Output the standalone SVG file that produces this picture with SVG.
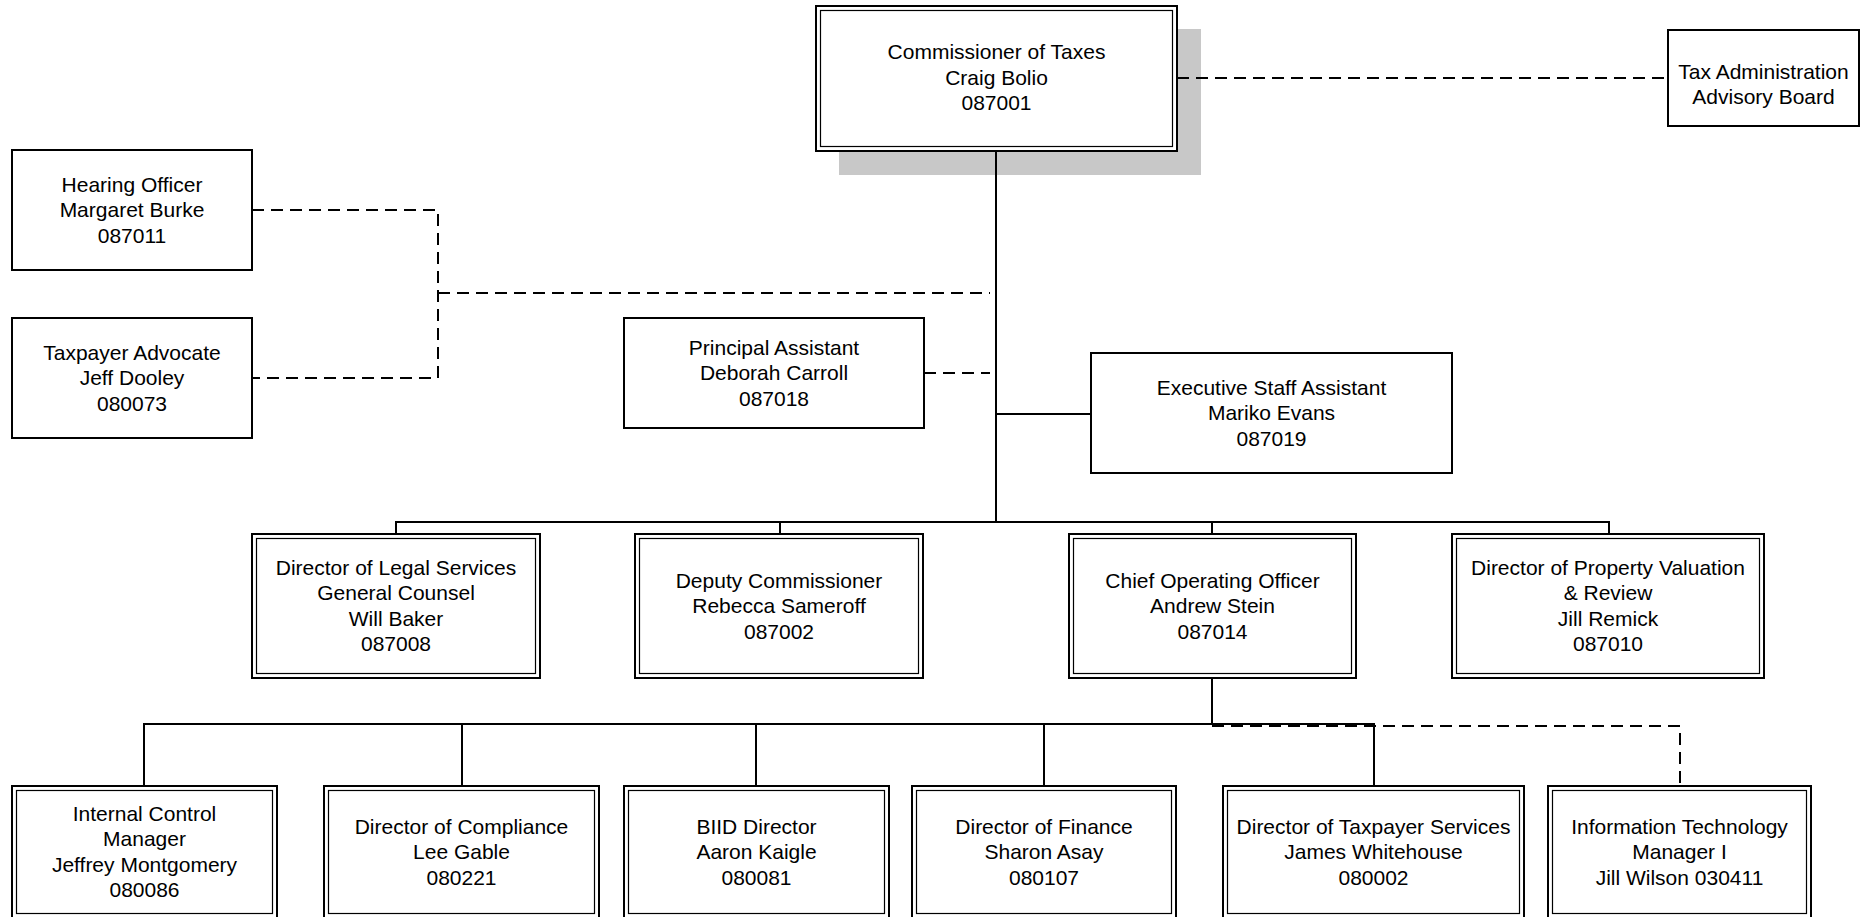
<svg xmlns="http://www.w3.org/2000/svg" width="1868" height="917" viewBox="0 0 1868 917">
  <style>
    .box { fill: #ffffff; stroke: #000000; stroke-width: 2; }
    .inner { fill: none; stroke: #000000; stroke-width: 1.2; }
    .shadow { fill: #c8c8c8; stroke: none; }
    .solid { fill: none; stroke: #000000; stroke-width: 2; }
    .dash { fill: none; stroke: #000000; stroke-width: 2; stroke-dasharray: 12 7; }
    text { font-family: "Liberation Sans", Arial, sans-serif; font-size: 21px; text-anchor: middle; fill: #000000; }
  </style>

  <rect id="commissioner-shadow" class="shadow" x="839" y="29" width="362" height="146"/>

  <g id="connectors">
    <!-- solid reporting lines -->
    <path class="solid" d="M996 151 V522"/>
    <path class="solid" d="M996 414 H1091"/>
    <path class="solid" d="M396 534 V522 H1609 V534"/>
    <path class="solid" d="M780 522 V534"/>
    <path class="solid" d="M1212 522 V534"/>
    <path class="solid" d="M1212 678 V724"/>
    <path class="solid" d="M144 786 V724 H1374 V786"/>
    <path class="solid" d="M462 724 V786"/>
    <path class="solid" d="M756 724 V786"/>
    <path class="solid" d="M1044 724 V786"/>
    <!-- dotted-line relationships -->
    <path class="dash" d="M1177 78 H1668"/>
    <path class="dash" d="M252 210 H438 V378 H252"/>
    <path class="dash" d="M438 293 H990"/>
    <path class="dash" d="M924 373 H990"/>
    <path class="dash" d="M1212 726 H1680 V786"/>
  </g>

  <g id="commissioner">
    <rect class="box" x="816" y="6" width="361" height="145"/>
    <rect class="inner" x="820.5" y="10.5" width="352" height="136"/>
    <text x="996.5" y="59">Commissioner of Taxes</text>
    <text x="996.5" y="84.5">Craig Bolio</text>
    <text x="996.5" y="110">087001</text>
  </g>

  <g id="advisory-board">
    <rect class="box" x="1668" y="30" width="191" height="96"/>
    <text x="1763.5" y="78.5">Tax Administration</text>
    <text x="1763.5" y="104">Advisory Board</text>
  </g>

  <g id="hearing-officer">
    <rect class="box" x="12" y="150" width="240" height="120"/>
    <text x="132" y="191.5">Hearing Officer</text>
    <text x="132" y="217">Margaret Burke</text>
    <text x="132" y="242.5">087011</text>
  </g>

  <g id="taxpayer-advocate">
    <rect class="box" x="12" y="318" width="240" height="120"/>
    <text x="132" y="359.5">Taxpayer Advocate</text>
    <text x="132" y="385">Jeff Dooley</text>
    <text x="132" y="410.5">080073</text>
  </g>

  <g id="principal-assistant">
    <rect class="box" x="624" y="318" width="300" height="110"/>
    <text x="774" y="354.5">Principal Assistant</text>
    <text x="774" y="380">Deborah Carroll</text>
    <text x="774" y="405.5">087018</text>
  </g>

  <g id="executive-staff-assistant">
    <rect class="box" x="1091" y="353" width="361" height="120"/>
    <text x="1271.5" y="394.5">Executive Staff Assistant</text>
    <text x="1271.5" y="420">Mariko Evans</text>
    <text x="1271.5" y="445.5">087019</text>
  </g>

  <g id="legal-services">
    <rect class="box" x="252" y="534" width="288" height="144"/>
    <rect class="inner" x="256.5" y="538.5" width="279" height="135"/>
    <text x="396" y="574.75">Director of Legal Services</text>
    <text x="396" y="600.25">General Counsel</text>
    <text x="396" y="625.75">Will Baker</text>
    <text x="396" y="651.25">087008</text>
  </g>

  <g id="deputy-commissioner">
    <rect class="box" x="635" y="534" width="288" height="144"/>
    <rect class="inner" x="639.5" y="538.5" width="279" height="135"/>
    <text x="779" y="587.5">Deputy Commissioner</text>
    <text x="779" y="613">Rebecca Sameroff</text>
    <text x="779" y="638.5">087002</text>
  </g>

  <g id="chief-operating-officer">
    <rect class="box" x="1069" y="534" width="287" height="144"/>
    <rect class="inner" x="1073.5" y="538.5" width="278" height="135"/>
    <text x="1212.5" y="587.5">Chief Operating Officer</text>
    <text x="1212.5" y="613">Andrew Stein</text>
    <text x="1212.5" y="638.5">087014</text>
  </g>

  <g id="property-valuation">
    <rect class="box" x="1452" y="534" width="312" height="144"/>
    <rect class="inner" x="1456.5" y="538.5" width="303" height="135"/>
    <text x="1608" y="574.75">Director of Property Valuation</text>
    <text x="1608" y="600.25">&amp; Review</text>
    <text x="1608" y="625.75">Jill Remick</text>
    <text x="1608" y="651.25">087010</text>
  </g>

  <g id="internal-control">
    <rect class="box" x="12" y="786" width="265" height="132"/>
    <rect class="inner" x="16.5" y="790.5" width="256" height="123"/>
    <text x="144.5" y="820.75">Internal Control</text>
    <text x="144.5" y="846.25">Manager</text>
    <text x="144.5" y="871.75">Jeffrey Montgomery</text>
    <text x="144.5" y="897.25">080086</text>
  </g>

  <g id="compliance">
    <rect class="box" x="324" y="786" width="275" height="132"/>
    <rect class="inner" x="328.5" y="790.5" width="266" height="123"/>
    <text x="461.5" y="833.5">Director of Compliance</text>
    <text x="461.5" y="859">Lee Gable</text>
    <text x="461.5" y="884.5">080221</text>
  </g>

  <g id="biid">
    <rect class="box" x="624" y="786" width="265" height="132"/>
    <rect class="inner" x="628.5" y="790.5" width="256" height="123"/>
    <text x="756.5" y="833.5">BIID Director</text>
    <text x="756.5" y="859">Aaron Kaigle</text>
    <text x="756.5" y="884.5">080081</text>
  </g>

  <g id="finance">
    <rect class="box" x="912" y="786" width="264" height="132"/>
    <rect class="inner" x="916.5" y="790.5" width="255" height="123"/>
    <text x="1044" y="833.5">Director of Finance</text>
    <text x="1044" y="859">Sharon Asay</text>
    <text x="1044" y="884.5">080107</text>
  </g>

  <g id="taxpayer-services">
    <rect class="box" x="1223" y="786" width="301" height="132"/>
    <rect class="inner" x="1227.5" y="790.5" width="292" height="123"/>
    <text x="1373.5" y="833.5">Director of Taxpayer Services</text>
    <text x="1373.5" y="859">James Whitehouse</text>
    <text x="1373.5" y="884.5">080002</text>
  </g>

  <g id="information-technology">
    <rect class="box" x="1548" y="786" width="263" height="132"/>
    <rect class="inner" x="1552.5" y="790.5" width="254" height="123"/>
    <text x="1679.5" y="833.5">Information Technology</text>
    <text x="1679.5" y="859">Manager I</text>
    <text x="1679.5" y="884.5">Jill Wilson 030411</text>
  </g>
</svg>
